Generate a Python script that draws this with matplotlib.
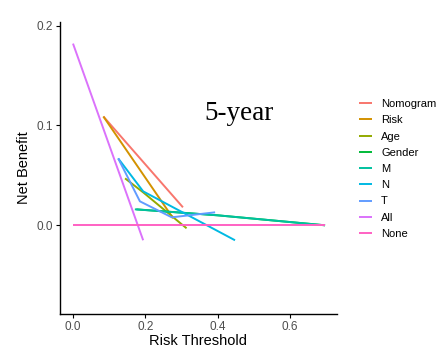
import matplotlib
matplotlib.use('Agg')
from matplotlib import pyplot as plt

plt.rcParams['font.family'] = ['Liberation Sans', 'DejaVu Sans']

# net benefit curves (threshold, net benefit)
models = ['Nomogram', 'Risk', 'Age', 'Gender', 'M', 'N', 'T', 'All', 'None']
colors = ['#F8766D', '#D39200', '#93AA00', '#00BA38', '#00C19F', '#00B9E3', '#619CFF', '#DB72FB', '#FF61C3']

nomogram_x = [0.084, 0.304]
nomogram_y = [0.109, 0.018]
risk_x = [0.084, 0.277]
risk_y = [0.109, 0.007]
age_x = [0.144, 0.194, 0.314]
age_y = [0.047, 0.033, -0.003]
gender_x = [0.175, 0.400, 0.697]
gender_y = [0.016, 0.010, 0.0]
m_x = [0.171, 0.400, 0.697]
m_y = [0.016, 0.010, 0.0]
n_x = [0.125, 0.194, 0.448]
n_y = [0.067, 0.034, -0.015]
t_x = [0.125, 0.185, 0.273, 0.393]
t_y = [0.067, 0.024, 0.008, 0.013]
all_x = [0.0, 0.194]
all_y = [0.182, -0.015]
none_x = [0.0, 0.697]
none_y = [0.0, 0.0]

xs = [nomogram_x, risk_x, age_x, gender_x, m_x, n_x, t_x, all_x, none_x]
ys = [nomogram_y, risk_y, age_y, gender_y, m_y, n_y, t_y, all_y, none_y]

fig = plt.figure(figsize=(4.46, 3.49), dpi=100)
ax = fig.add_axes([0.1345, 0.101, 0.6211, 0.837])

for name, c, x, y in zip(models, colors, xs, ys):
    ax.plot(x, y, color=c, lw=1.4, label=name, solid_capstyle='butt')

ax.text(0.46, 0.1115, '5-year', family=['Liberation Serif'], fontsize=19.5,
        ha='center', va='center')

ax.set_xlim(-0.036, 0.73)
ax.set_ylim(-0.0886, 0.204)
ax.set_xticks([0.0, 0.2, 0.4, 0.6])
ax.set_yticks([0.0, 0.1, 0.2])
ax.set_xticklabels(['0.0', '0.2', '0.4', '0.6'])
ax.set_yticklabels(['0.0', '0.1', '0.2'])
ax.tick_params(colors='black', labelcolor='#4D4D4D', labelsize=8.5, length=3, width=0.8, pad=2)
for s in ['top', 'right']:
    ax.spines[s].set_visible(False)
for s in ['left', 'bottom']:
    ax.spines[s].set_linewidth(1.0)
ax.set_xlabel('Risk Threshold', fontsize=10.5, labelpad=1)
ax.set_ylabel('Net Benefit', fontsize=10.5, labelpad=4)

leg = ax.legend(loc='upper left', bbox_to_anchor=(1.063, 0.75), frameon=False,
                fontsize=8, handlelength=1.2, labelspacing=0.56, handletextpad=0.8,
                borderaxespad=0)

fig.savefig('out.png', dpi=100)
